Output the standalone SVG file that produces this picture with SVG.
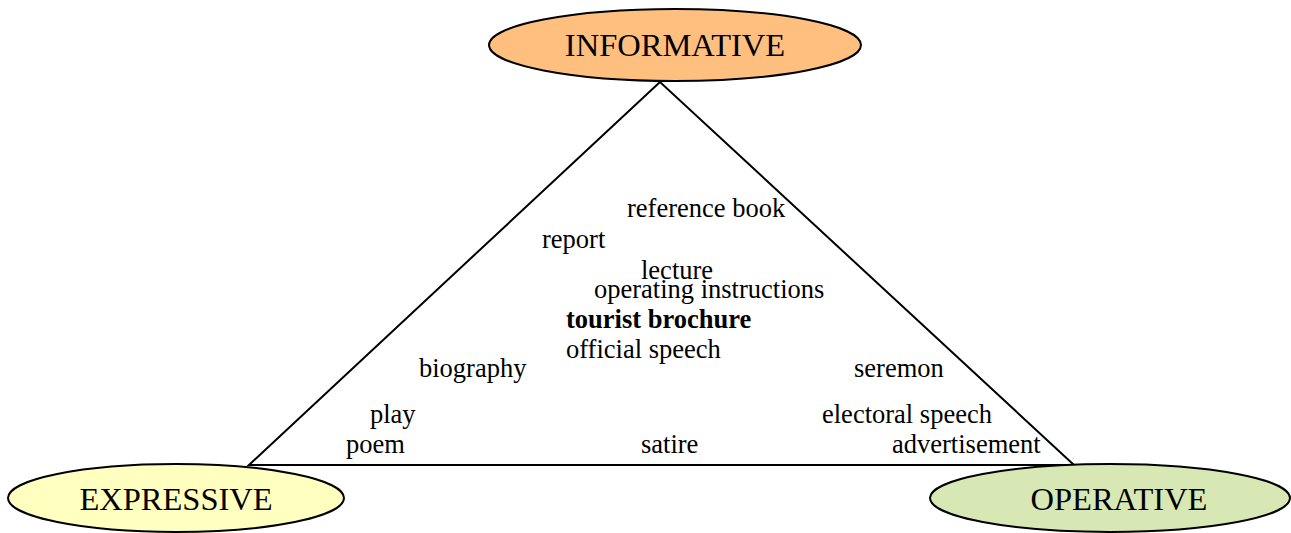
<svg xmlns="http://www.w3.org/2000/svg" width="1291" height="533" viewBox="0 0 1291 533">
<style>
.n{stroke:#000;stroke-width:2}
.t{font-family:"Liberation Serif","Times New Roman",serif;fill:#000}
.big{font-size:32.5px}
.lbl{font-size:26.5px}
.b{font-weight:bold}
</style>
<rect width="1291" height="533" fill="#fff"/>
<g id="connectors">
<polygon points="660,82 249,465 1074,465" fill="none" stroke="#000" stroke-width="2"/>
</g>
<g id="informative">
<ellipse class="n" cx="675" cy="45" rx="186" ry="36" fill="#ffbf7f"/>
<text class="t big" x="675" y="56" text-anchor="middle">INFORMATIVE</text>
</g>
<g id="expressive">
<ellipse class="n" cx="176" cy="498" rx="168" ry="34" fill="#ffffc0"/>
<text class="t big" x="176" y="510" text-anchor="middle">EXPRESSIVE</text>
</g>
<g id="operative">
<ellipse class="n" cx="1110" cy="498" rx="180" ry="34" fill="#d8e8b4"/>
<text class="t big" x="1119" y="510" text-anchor="middle">OPERATIVE</text>
</g>
<g id="labels" class="t lbl">
<text x="627" y="217">reference book</text>
<text x="542" y="248">report</text>
<text x="641" y="279">lecture</text>
<text x="594" y="298">operating instructions</text>
<text class="b" x="566" y="328">tourist brochure</text>
<text x="566" y="358">official speech</text>
<text x="419" y="377">biography</text>
<text x="854" y="377">seremon</text>
<text x="370" y="423">play</text>
<text x="822" y="423">electoral speech</text>
<text x="346" y="453">poem</text>
<text x="641" y="453">satire</text>
<text x="892" y="453">advertisement</text>
</g>
</svg>
